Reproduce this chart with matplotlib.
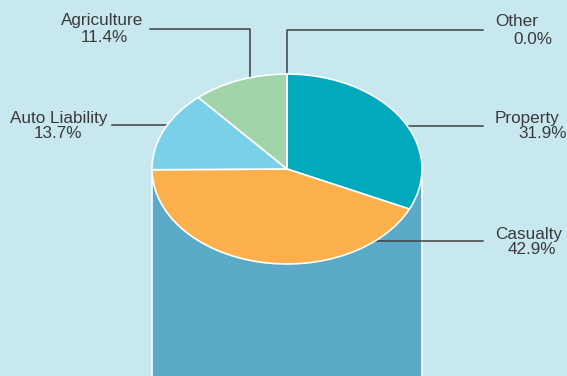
import matplotlib.pyplot as plt
import matplotlib.patches as mpatches
import numpy as np

labels = ["Property", "Casualty", "Auto Liability", "Agriculture", "Other"]
pcts = [31.9, 42.9, 13.7, 11.4, 0.0]
colors = ["#02a9bd", "#fbb04b", "#7ad0e8", "#a2d4aa", "#c9e9ef"]

W, H = 567, 376
bg = "#c8e8ef"
cx, cy, rx, ry = 287, 169, 135, 95

fig = plt.figure(figsize=(W / 100, H / 100), dpi=100, facecolor=bg)

# base axes in pixel coords for the cylinder body, leaders and labels
base = fig.add_axes([0, 0, 1, 1])
base.set_xlim(0, W)
base.set_ylim(H, 0)
base.axis("off")
base.set_facecolor(bg)

base.add_patch(mpatches.Rectangle((cx - rx, cy), 2 * rx, H, facecolor="#5baac7",
                                  edgecolor="white", linewidth=1.2, zorder=1))

# the top of the cylinder: a pie squashed into an ellipse
pax = fig.add_axes([(cx - rx) / W, 1 - (cy + ry) / H, 2 * rx / W, 2 * ry / H])
pax.pie(pcts, colors=colors, startangle=90, counterclock=False,
        wedgeprops=dict(edgecolor="white", linewidth=1.2))
pax.set_aspect("auto")
pax.set_xlim(-1.0, 1.0)
pax.set_ylim(-1.0, 1.0)
pax.axis("off")


def edge_x(y, side):
    return cx + side * rx * np.sqrt(max(0.0, 1 - ((y - cy) / ry) ** 2))


lc = "#404040"
# horizontal leaders to the rim
for y, side, x_end in [(126, 1, 483), (241, 1, 483), (125, -1, 112)]:
    base.plot([edge_x(y, side), x_end], [y, y], color=lc, lw=1.1, zorder=3)
# elbow leaders from above
base.plot([150, 250, 250], [29, 29, cy - ry * np.sqrt(1 - ((250 - cx) / rx) ** 2) + 1],
          color=lc, lw=1.1, zorder=3)
base.plot([483, 287, 287], [30, 30, cy - ry + 1], color=lc, lw=1.1, zorder=3)

tc = "#3a3a3a"
fs = 12.3
name_pos = {"Property": (495, 118), "Casualty": (495, 234), "Auto Liability": (10, 118),
            "Agriculture": (61, 21), "Other": (495, 22)}
pct_pos = {"Property": (518, 134), "Casualty": (508, 249), "Auto Liability": (34, 134),
           "Agriculture": (81, 38), "Other": (513, 39)}
for lab, p in zip(labels, pcts):
    x, y = name_pos[lab]
    base.text(x, y, lab, color=tc, fontsize=fs, ha="left", va="center", family="Liberation Sans")
    x, y = pct_pos[lab]
    base.text(x, y, f"{p:.1f}%", color=tc, fontsize=fs, ha="left", va="center",
              family="Liberation Sans")

fig.savefig("out.png", dpi=100, facecolor=bg)
